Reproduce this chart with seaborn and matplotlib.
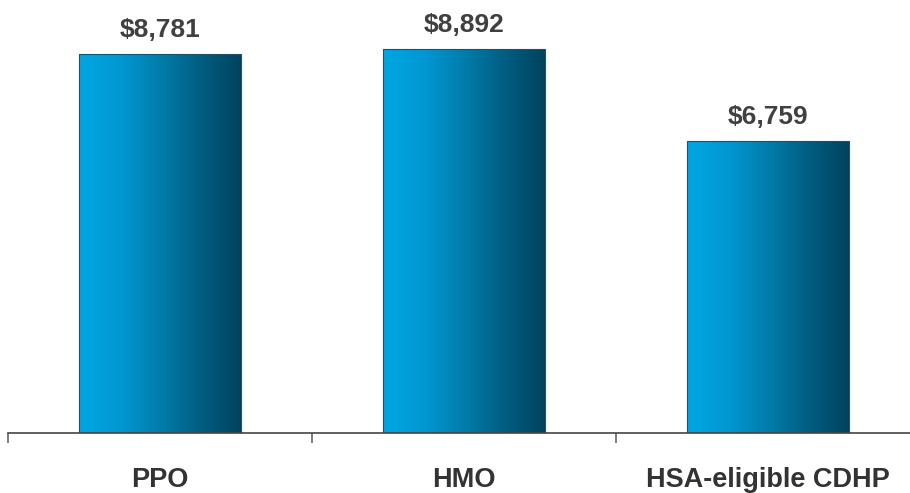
import numpy as np
import pandas as pd
import matplotlib
matplotlib.use("Agg")
import matplotlib.pyplot as plt
from matplotlib.colors import LinearSegmentedColormap
from matplotlib.ticker import FixedLocator
import seaborn as sns

plans = ["PPO", "HMO", "HSA-eligible CDHP"]
premiums = [8781, 8892, 6759]
value_labels = ["$8,781", "$8,892", "$6,759"]

sns.set_theme(style="white")
plt.rcParams["font.family"] = ["Liberation Sans", "DejaVu Sans"]

df = pd.DataFrame({"plan": plans, "premium": premiums})

fig = plt.figure(figsize=(9.10, 4.93), dpi=100)
ax = fig.add_axes([8 / 910, 60 / 493, 912 / 910, 432 / 493])

sns.barplot(data=df, x="plan", y="premium", width=0.53, color="#00a3e0",
            edgecolor="#3c4650", linewidth=0.8, ax=ax)

ax.set_xlim(-0.5, 2.5)
ax.set_ylim(0, 10010)

# horizontal light-to-dark blue fill for each bar
blue_ramp = LinearSegmentedColormap.from_list(
    "blue_ramp", ["#00a6e2", "#0098d3", "#007dab", "#005e82", "#00435f"])
grad = np.linspace(0, 1, 256).reshape(1, -1)

for bar, lab in zip(ax.patches, value_labels):
    x0, w, h = bar.get_x(), bar.get_width(), bar.get_height()
    bar.set_facecolor("none")
    im = ax.imshow(grad, cmap=blue_ramp, aspect="auto",
                   extent=(x0, x0 + w, 0, h), zorder=bar.get_zorder() - 0.1)
    im.set_clip_path(bar)
    ax.annotate(lab, (x0 + w / 2, h), xytext=(0, 8.5), textcoords="offset points",
                ha="center", va="bottom", fontsize=19, fontweight="bold",
                color="#404040")

ax.set_xlim(-0.5, 2.5)
ax.set_ylim(0, 10010)

for side in ["top", "right", "left"]:
    ax.spines[side].set_visible(False)
ax.spines["bottom"].set_color("#444444")
ax.spines["bottom"].set_linewidth(1.2)
ax.set_yticks([])
ax.set_xlabel("")
ax.set_ylabel("")

ax.xaxis.set_minor_locator(FixedLocator([-0.5, 0.5, 1.5, 2.5]))
ax.tick_params(axis="x", which="minor", bottom=True, length=7.5, width=1.2,
               color="#666666", direction="out")
ax.tick_params(axis="x", which="major", length=0, pad=24.5, labelsize=19.5,
               labelcolor="#333333")
for t in ax.get_xticklabels():
    t.set_fontweight("bold")

fig.savefig("out.png", dpi=100)
